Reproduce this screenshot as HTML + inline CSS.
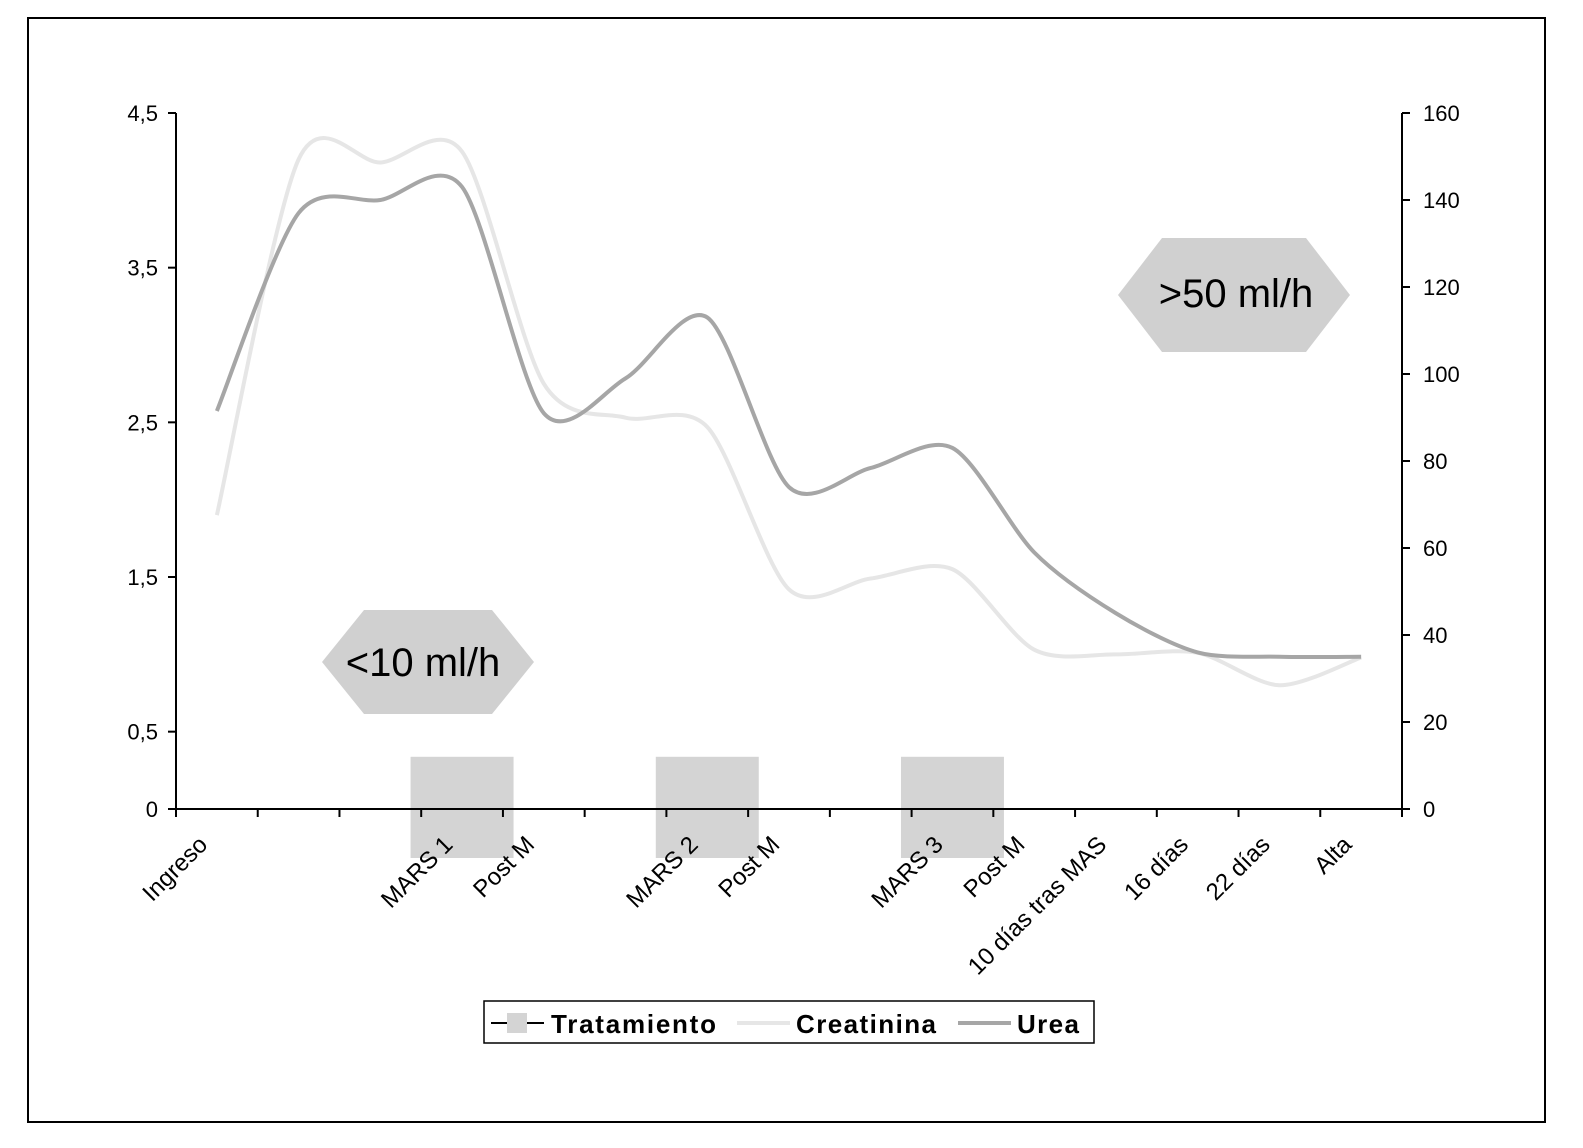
<!DOCTYPE html>
<html><head><meta charset="utf-8"><style>
body{margin:0;background:#fff;}
svg{display:block;font-family:"Liberation Sans",Arial,sans-serif;}
</style></head><body>
<svg id="chart" width="1583" height="1148" viewBox="0 0 1583 1148">
<rect x="28" y="18" width="1517" height="1104" fill="#fff" stroke="#000" stroke-width="2"/>
<defs><clipPath id="rc"><rect x="0" y="0" width="1463" height="1148"/></clipPath></defs>
<g id="bars"></g>
<g id="lines"></g>
<g id="axes"></g>
<g id="xlabels"></g>
<polygon points="1118,295 1162,238 1306,238 1350,295 1306,352 1162,352" fill="#d0d0d0"/>
<text x="1236" y="307" font-size="40" text-anchor="middle" fill="#000">&gt;50 ml/h</text>
<polygon points="322,662 364,610 492,610 534,662 492,714 364,714" fill="#d0d0d0"/>
<text x="423" y="676" font-size="40" text-anchor="middle" fill="#000">&lt;10 ml/h</text>
<g>
<rect x="484" y="1001" width="610" height="42" fill="#fff" stroke="#000" stroke-width="1.5"/>
<g>
<line x1="491" y1="1023" x2="544" y2="1023" stroke="#000" stroke-width="2"/>
<rect x="507" y="1013" width="20" height="20" fill="#d4d4d4"/>
<text x="551" y="1033" font-size="26" font-weight="bold" textLength="165">Tratamiento</text></g>
<g>
<line x1="737" y1="1023" x2="790" y2="1023" stroke="#e6e6e6" stroke-width="4"/>
<text x="796" y="1033" font-size="26" font-weight="bold" textLength="140">Creatinina</text></g>
<g>
<line x1="958" y1="1023" x2="1011" y2="1023" stroke="#a6a6a6" stroke-width="4"/>
<text x="1017" y="1033" font-size="26" font-weight="bold" textLength="62">Urea</text></g>
</g>
</svg>
<script>
const categories=["Ingreso","","","MARS 1","Post M","","MARS 2","Post M","","MARS 3","Post M","10 días tras MAS","16 días","22 días","Alta"];
const creatinina=[1.9,4.2,4.18,4.25,2.75,2.53,2.47,1.42,1.49,1.55,1.03,1.0,1.01,0.8,0.98];
const urea=[91.5,137,140,143,91,99,113,74,78.4,83,59,45,36,35,35];
const tratamiento=[0,0,0,12,0,0,12,0,0,12,0,0,0,0,0];
const leftTicks=[0,0.5,1.5,2.5,3.5,4.5];
const leftTickLabels=["0","0,5","1,5","2,5","3,5","4,5"];
const rightTicks=[0,20,40,60,80,100,120,140,160];

const NS="http://www.w3.org/2000/svg";
const X0=176,X1=1402,Y0=809,YT=113;
const n=categories.length,step=(X1-X0)/n;
const xc=i=>X0+step*(i+0.5);
const yL=v=>Y0-(v/4.5)*(Y0-YT);
const yR=v=>Y0-(v/160)*(Y0-YT);
function mk(tag,attrs,parent){const e=document.createElementNS(NS,tag);for(const k in attrs)e.setAttribute(k,attrs[k]);parent.appendChild(e);return e;}
const gb=document.getElementById('bars'),gl=document.getElementById('lines'),ga=document.getElementById('axes'),gx=document.getElementById('xlabels');

tratamiento.forEach((v,i)=>{if(!v)return;
 const r=mk('rect',{x:xc(i)-step*0.63,y:yR(v),width:step*1.26,height:(Y0-yR(v))+49,fill:'#d4d4d4'},gb);
 
 
});

function smooth(pts){let d='M'+pts[0][0]+','+pts[0][1];const k=7;
 for(let i=0;i<pts.length-1;i++){const p0=pts[i-1]||pts[i],p1=pts[i],p2=pts[i+1],p3=pts[i+2]||p2;
  const c1=[p1[0]+(p2[0]-p0[0])/k,p1[1]+(p2[1]-p0[1])/k],c2=[p2[0]-(p3[0]-p1[0])/k,p2[1]-(p3[1]-p1[1])/k];
  d+=' C'+c1+' '+c2+' '+p2;}return d;}
const pc=mk('path',{d:smooth(creatinina.map((v,i)=>[xc(i),yL(v)])),fill:'none',stroke:'#e6e6e6','stroke-width':4},gl);


const pu=mk('path',{d:smooth(urea.map((v,i)=>[xc(i),yR(v)])),fill:'none',stroke:'#a6a6a6','stroke-width':4},gl);



const la=mk('line',{x1:X0,y1:YT,x2:X0,y2:Y0,stroke:'#000','stroke-width':2},ga);


const ra=mk('line',{x1:X1,y1:YT,x2:X1,y2:Y0,stroke:'#000','stroke-width':2},ga);


const xa=mk('line',{x1:X0,y1:Y0,x2:X1,y2:Y0,stroke:'#000','stroke-width':2},ga);


leftTicks.forEach((v,i)=>{mk('line',{x1:X0-8,y1:yL(v),x2:X0,y2:yL(v),stroke:'#000','stroke-width':2},ga);
 const t=mk('text',{x:X0-18,y:yL(v)+8,'font-size':22,'text-anchor':'end'},ga);t.textContent=leftTickLabels[i];
 
 });
rightTicks.forEach(v=>{mk('line',{x1:X1,y1:yR(v),x2:X1+8,y2:yR(v),stroke:'#000','stroke-width':2},ga);
 const t=mk('text',{x:X1+21,y:yR(v)+8,'font-size':22,'clip-path':'url(#rc)'},ga);t.textContent=v;
 
 });
for(let i=0;i<=n;i++)mk('line',{x1:X0+step*i,y1:Y0,x2:X0+step*i,y2:Y0+8,stroke:'#000','stroke-width':2},ga);
categories.forEach((c,i)=>{if(!c)return;const x=xc(i)-8,y=846;
 const t=mk('text',{x:x,y:y,'font-size':24,'text-anchor':'end',transform:'rotate(-45 '+x+' '+y+')'},gx);t.textContent=c;
 
 });
</script>
</body></html>
